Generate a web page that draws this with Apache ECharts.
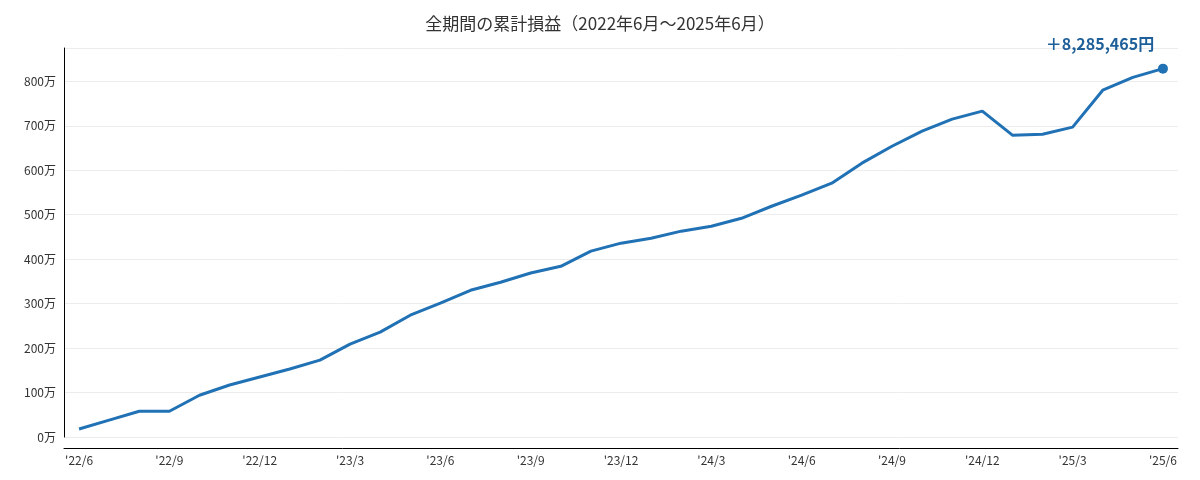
<!DOCTYPE html>
<html><head><meta charset="utf-8">
<script src="https://cdn.jsdelivr.net/npm/echarts@6/dist/echarts.min.js"></script>
<style>html,body{margin:0;padding:0}#c{width:1200px;height:480px}</style>
</head><body><div id="c"></div>
<script>
const months = [];
for (let i = 0; i < 37; i++) { const m = (5 + i) % 12 + 1; const y = 22 + Math.floor((5 + i) / 12); months.push("'" + y + "/" + m); }
const values = [18,38,58,58,94,117,135,153,173,209,236,274,301,330,348,369,384,418,436,447,463,474,492,519,544,571,616,654,688,715,733,679,681,697,780,809,828.5465];
const endLabel = '＋8,285,465円';
const chart = echarts.init(document.getElementById('c'));
chart.setOption({
  animation: false,
  textStyle: { fontFamily: 'Noto Sans CJK JP' },
  title: { text: '全期間の累計損益（2022年6月～2025年6月）', left: 'center', top: 10,
    textStyle: { fontSize: 17, fontWeight: 'normal', color: '#333', fontFamily: 'Noto Sans CJK JP' } },
  grid: { left: 64, right: 22, top: 48, bottom: 43 },
  xAxis: { type: 'category', data: months, boundaryGap: true, offset: 11,
    axisLine: { onZero: false, lineStyle: { color: '#000' } },
    axisTick: { interval: 2, alignWithLabel: true, lineStyle: { color: '#000' } },
    axisLabel: { interval: 2, color: '#333', fontSize: 12, margin: 6 } },
  yAxis: { type: 'value', min: 0, max: 875, interval: 100,
    axisLine: { show: true, lineStyle: { color: '#000' } },
    axisTick: { show: false },
    axisLabel: { color: '#333', fontSize: 12, showMaxLabel: false, formatter: v => v + '万' },
    splitLine: { lineStyle: { color: '#ececec' } } },
  series: [{ type: 'line', data: values, symbol: 'none', lineStyle: { color: '#2171b5', width: 3 },
    itemStyle: { color: '#2171b5' },
    markPoint: { symbol: 'circle', symbolSize: 10, data: [{ coord: [36, values[36]], value: endLabel }],
      label: { show: true, position: 'top', distance: 12, offset: [-63, 0], formatter: endLabel, color: '#1f5f99', fontWeight: 'bold', fontSize: 16 } } }]
});
</script></body></html>
